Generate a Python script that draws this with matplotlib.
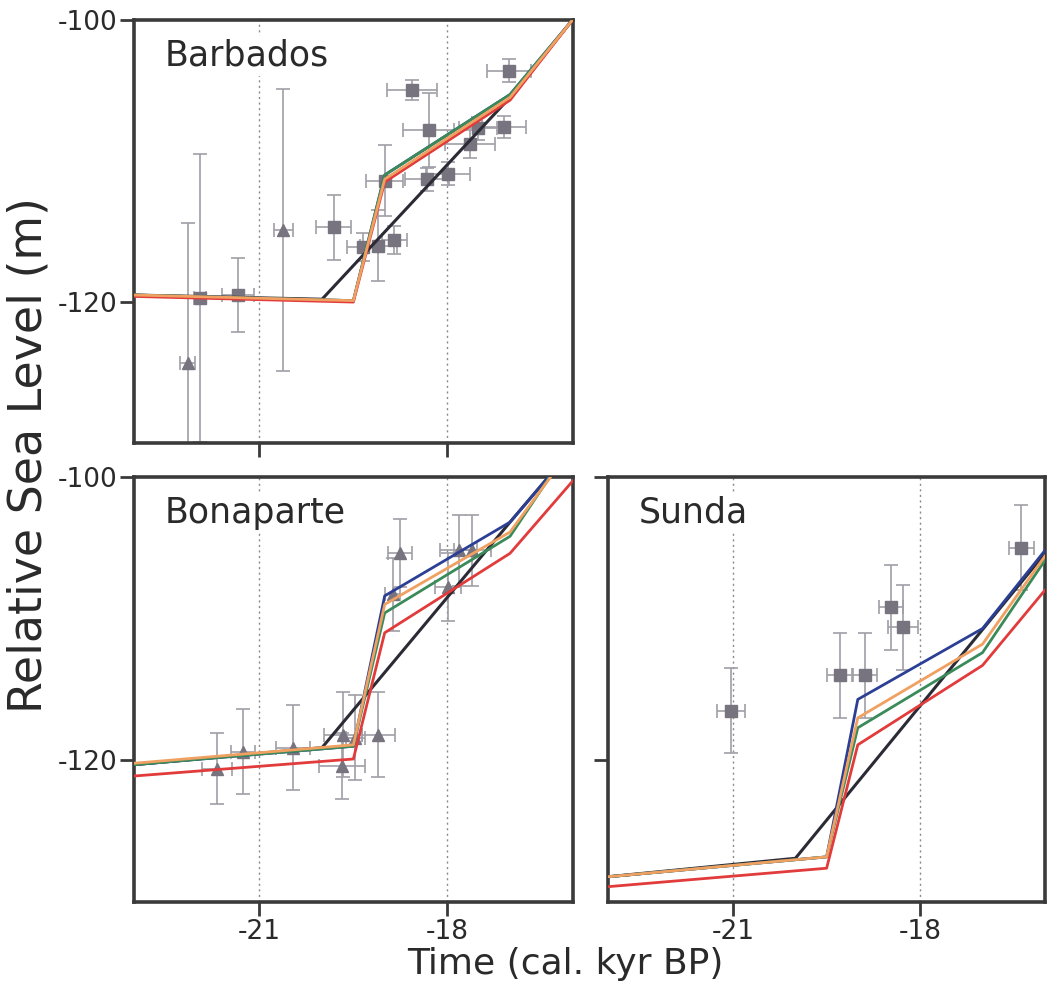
# =========================
# plot.py
# relative sea level, three sites
# =========================

import matplotlib.pyplot as plt

plt.rcParams['font.family'] = ['DejaVu Sans']

# =========================
# DATA
# =========================

# model nodes (cal. kyr BP)
t_nodes = [-23.0, -19.5, -19.0, -17.0, -16.0]

# Barbados model curves (m)
barb_blue = [-119.5, -119.9, -111.0, -105.3, -100.0]
barb_green = [-119.5, -119.9, -111.0, -105.3, -100.0]
barb_red = [-119.6, -120.0, -111.5, -105.7, -100.0]
barb_orange = [-119.5, -119.9, -111.3, -105.5, -100.0]
barb_black_t = [-23.0, -20.0, -17.0, -16.0]
barb_black = [-119.5, -119.8, -105.5, -100.0]

# Bonaparte model curves (m)
bona_blue = [-120.3, -119.0, -108.4, -103.2, -98.0]
bona_green = [-120.3, -119.0, -109.6, -104.2, -97.6]
bona_red = [-121.1, -119.9, -111.0, -105.4, -100.3]
bona_orange = [-120.2, -118.9, -109.0, -103.9, -97.9]
bona_black_t = [-23.0, -20.0, -17.0, -16.0]
bona_black = [-120.3, -119.1, -103.2, -98.0]

# Sunda model curves (m)
sund_blue = [-128.2, -126.8, -115.7, -110.7, -105.2]
sund_green = [-128.2, -126.8, -117.7, -112.4, -105.9]
sund_red = [-128.9, -127.6, -118.9, -113.3, -108.0]
sund_orange = [-128.2, -126.8, -117.0, -111.8, -105.6]
sund_black_t = [-23.0, -20.0, -16.0]
sund_black = [-128.2, -126.9, -105.4]

# Barbados observations: age, rsl, age err, rsl err, marker
barb_age = [-22.14, -21.95, -21.34, -20.62, -19.81, -19.35, -19.10, -18.85,
            -19.00, -18.57, -18.30, -18.33, -17.99, -17.64, -17.51, -17.10,
            -17.02]
barb_rsl = [-124.3, -119.7, -119.5, -114.9, -114.7, -116.1, -116.0, -115.6,
            -111.4, -105.0, -107.8, -111.3, -110.9, -108.8, -107.7, -107.6,
            -103.6]
barb_age_err = [0.12, 0.10, 0.25, 0.15, 0.28, 0.25, 0.30, 0.20,
                0.30, 0.40, 0.40, 0.35, 0.35, 0.40, 0.30, 0.35,
                0.35]
barb_rsl_err = [9.9, 10.2, 2.6, 10.0, 2.3, 1.0, 2.5, 1.0,
                2.5, 0.7, 2.6, 0.8, 0.8, 1.0, 0.8, 0.8,
                0.8]
barb_marker = ['^', 's', 's', '^', 's', 's', 's', 's',
               's', 's', 's', 's', 's', 's', 's', 's',
               's']

# Bonaparte observations
bona_age = [-21.68, -21.26, -20.46, -19.67, -19.68, -19.47, -19.10,
            -18.76, -18.87, -17.99, -17.82, -17.60]
bona_rsl = [-120.6, -119.4, -119.1, -118.2, -120.4, -118.4, -118.2,
            -105.4, -108.3, -107.8, -105.2, -105.2]
bona_age_err = [0.24, 0.19, 0.27, 0.30, 0.37, 0.15, 0.27,
                0.19, 0.12, 0.21, 0.30, 0.30]
bona_rsl_err = [2.5, 3.0, 3.0, 3.0, 2.3, 3.0, 3.0,
                2.4, 2.6, 2.4, 2.5, 2.5]

# Sunda observations
sund_age = [-21.03, -19.29, -18.88, -18.47, -18.28, -16.38]
sund_rsl = [-116.5, -114.0, -114.0, -109.2, -110.6, -105.0]
sund_age_err = [0.22, 0.20, 0.19, 0.19, 0.24, 0.20]
sund_rsl_err = [3.0, 3.0, 3.0, 3.0, 3.0, 3.0]

# =========================
# STYLE
# =========================

c_black = "#2b2b35"
c_blue = "#2b3f95"
c_green = "#3a8a5a"
c_red = "#e23b3b"
c_orange = "#f0a060"
c_point = "#77737f"
c_err = "#a09ea6"
c_spine = "#3a3a3a"
c_text = "#2a2a2a"

fig = plt.figure(figsize=(10.47, 9.85), dpi=100)

ax_barb = fig.add_axes([0.128, 0.550, 0.419, 0.430])
ax_bona = fig.add_axes([0.128, 0.084, 0.419, 0.432])
ax_sund = fig.add_axes([0.581, 0.084, 0.417, 0.432])


def draw_panel(ax, name, blue, green, red, orange, black_t, black,
               age, rsl, age_err, rsl_err, markers):

    ax.set_xlim(-23, -16)
    ax.set_ylim(-130, -100)

    for x in [-21, -18]:
        ax.axvline(x, color="#8a8a8a", linewidth=1,
                   linestyle=(0, (1.5, 2.5)), zorder=0)

    # observations
    ax.errorbar(age, rsl, xerr=age_err, yerr=rsl_err, fmt='none',
                ecolor=c_err, elinewidth=1.2, capsize=5, capthick=1.2,
                zorder=2)
    for a, r, m in zip(age, rsl, markers):
        ax.plot(a, r, marker=m, markersize=8, color=c_point,
                linestyle='none', zorder=2.5)

    # models
    ax.plot(black_t, black, color=c_black, linewidth=2.2, zorder=3)
    ax.plot(t_nodes, blue, color=c_blue, linewidth=2, zorder=3)
    ax.plot(t_nodes, green, color=c_green, linewidth=2, zorder=3)
    ax.plot(t_nodes, red, color=c_red, linewidth=2, zorder=3)
    ax.plot(t_nodes, orange, color=c_orange, linewidth=2, zorder=3.2)

    ax.text(0.07, 0.955, name, transform=ax.transAxes, fontsize=25,
            color=c_text, ha='left', va='top', zorder=4,
            bbox=dict(facecolor='white', edgecolor='none', pad=2))

    ax.set_xticks([-21, -18])
    ax.set_yticks([-100, -120])
    ax.tick_params(direction='out', length=10, width=2, color=c_spine,
                   labelsize=19, labelcolor=c_text, pad=2)
    for s in ax.spines.values():
        s.set_linewidth(2.6)
        s.set_color(c_spine)


draw_panel(ax_barb, "Barbados", barb_blue, barb_green, barb_red,
           barb_orange, barb_black_t, barb_black,
           barb_age, barb_rsl, barb_age_err, barb_rsl_err, barb_marker)

draw_panel(ax_bona, "Bonaparte", bona_blue, bona_green, bona_red,
           bona_orange, bona_black_t, bona_black,
           bona_age, bona_rsl, bona_age_err, bona_rsl_err,
           ['^'] * len(bona_age))

draw_panel(ax_sund, "Sunda", sund_blue, sund_green, sund_red,
           sund_orange, sund_black_t, sund_black,
           sund_age, sund_rsl, sund_age_err, sund_rsl_err,
           ['s'] * len(sund_age))

ax_barb.set_xticklabels([])
ax_sund.set_yticklabels([])
ax_bona.set_xticklabels(["-21", "-18"])
ax_sund.set_xticklabels(["-21", "-18"])
ax_bona.set_yticklabels(["-100", "-120"])
ax_barb.set_yticklabels(["-100", "-120"])

# =========================
# LABELS
# =========================

fig.text(0.54, 0.0213, "Time (cal. kyr BP)", fontsize=26,
         color=c_text, ha='center', va='center')
fig.text(0.0277, 0.538, "Relative Sea Level (m)", fontsize=33,
         color=c_text, ha='center', va='center', rotation=90)

fig.savefig("out.png", dpi=100)
